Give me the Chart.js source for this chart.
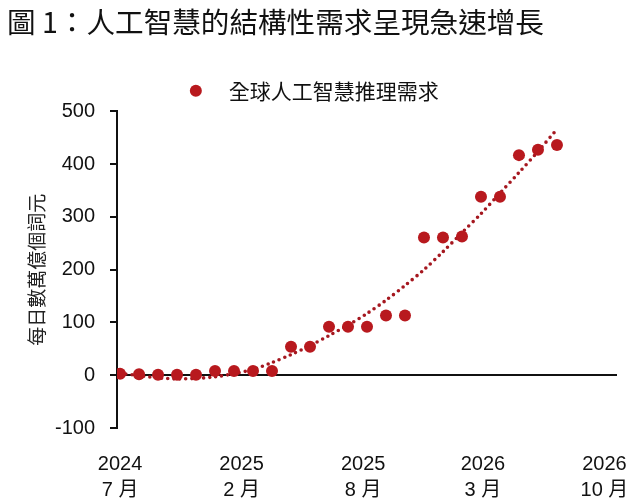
<!DOCTYPE html>
<html>
<head>
<meta charset="utf-8">
<script src="https://cdn.jsdelivr.net/npm/chart.js@4/dist/chart.umd.min.js"></script>
<style>
  html, body { margin: 0; padding: 0; background: #fff; }
  #wrap { width: 642px; height: 502px; }
</style>
</head>
<body>
<div id="wrap"><canvas id="c"></canvas></div>
<script>
// ---- data ----
const pointIndex = [0,1,2,3,4,5,6,7,8,9,10,11,12,13,14,15,16,17,18,19,20,21,22,23];
const demand = [3,2,1,1,1,8,8,8,8,54,54,92,92,92,113,113,261,261,263,338,338,417,427,436];
const trend = [4,-1,-5,-7,-6,-3,3,11,24,39,56,75,95,117,142,170,200,234,270,306,345,384,424,466];
const xTickPositions = [0, 6.4, 12.8, 19.1, 25.5];
const xTickLabels = [["2024","7 月"],["2025","2 月"],["2025","8 月"],["2026","3 月"],["2026","10 月"]];
const seriesName = "全球人工智慧推理需求";
const titleText = "圖 1：人工智慧的結構性需求呈現急速增長";
const yAxisTitle = "每日數萬億個詞元";

const latinFont = "'Liberation Sans', 'Noto Sans CJK TC', sans-serif";
const cjkFont = "'Noto Sans CJK TC', 'Liberation Sans', sans-serif";

const demandPts = pointIndex.map((x, i) => ({x: x, y: demand[i]}));
const trendPts = pointIndex.map((x, i) => ({x: x, y: trend[i]}));

new Chart(document.getElementById('c'), {
  type: 'line',
  data: {
    datasets: [
      {
        label: seriesName,
        data: demandPts,
        showLine: false,
        pointRadius: 6,
        pointHoverRadius: 6,
        pointBackgroundColor: '#B8191E',
        pointBorderColor: '#B8191E',
        pointBorderWidth: 0,
        order: 1
      },
      {
        label: 'trend',
        data: trendPts,
        borderColor: '#A5171F',
        borderWidth: 3.6,
        borderDash: [0, 6],
        borderCapStyle: 'round',
        pointRadius: 0,
        tension: 0.3,
        fill: false,
        order: 2
      }
    ]
  },
  options: {
    responsive: true,
    maintainAspectRatio: false,
    animation: false,
    layout: { padding: { left: 7, right: 25, top: 0, bottom: 0 } },
    plugins: {
      title: {
        display: true,
        text: titleText,
        align: 'start',
        color: '#111',
        font: { family: cjkFont, size: 28.6, weight: 'normal', lineHeight: 1.2 },
        padding: { top: 5, bottom: 34 }
      },
      legend: {
        display: true,
        position: 'top',
        labels: {
          usePointStyle: true,
          pointStyle: 'circle',
          boxHeight: 8.5,
          boxWidth: 21,
          padding: 7,
          color: '#111',
          font: { family: cjkFont, size: 21 },
          filter: (item) => item.datasetIndex === 0,
          generateLabels: (chart) => {
            const items = Chart.defaults.plugins.legend.labels.generateLabels(chart);
            items.forEach(it => { if (it.datasetIndex === 0) it.text = '\u2002\u200A' + it.text; });
            return items;
          }
        }
      },
      tooltip: { enabled: false }
    },
    scales: {
      x: {
        type: 'linear',
        min: -0.16,
        max: 26.16,
        afterBuildTicks: (axis) => { axis.ticks = xTickPositions.map(v => ({ value: v })); },
        afterFit: (scale) => { scale.height = 74; scale.paddingRight = 0; scale.paddingLeft = 0; },
        ticks: {
          autoSkip: false,
          maxRotation: 0,
          padding: 23,
          color: '#111',
          font: { family: latinFont, size: 20, lineHeight: 1.3 },
          callback: (value) => {
            const i = xTickPositions.indexOf(value);
            return i >= 0 ? xTickLabels[i] : '';
          }
        },
        grid: { display: false, drawTicks: false },
        border: { display: false }
      },
      y: {
        min: -100,
        max: 500,
        afterFit: (scale) => { scale.width = 110; },
        ticks: {
          stepSize: 100,
          padding: 15,
          color: '#111',
          font: { family: latinFont, size: 20 }
        },
        grid: {
          drawTicks: true,
          tickLength: 7,
          tickColor: '#111',
          tickWidth: 2,
          lineWidth: 2,
          color: (ctx) => (ctx.tick && ctx.tick.value === 0) ? '#111' : 'rgba(0,0,0,0)'
        },
        border: { display: true, color: '#111', width: 2 },
        title: {
          display: true,
          text: yAxisTitle,
          color: '#222',
          font: { family: cjkFont, size: 19, lineHeight: 1.2 },
          padding: { top: 18, bottom: 4 }
        }
      }
    }
  }
});
</script>
</body>
</html>
